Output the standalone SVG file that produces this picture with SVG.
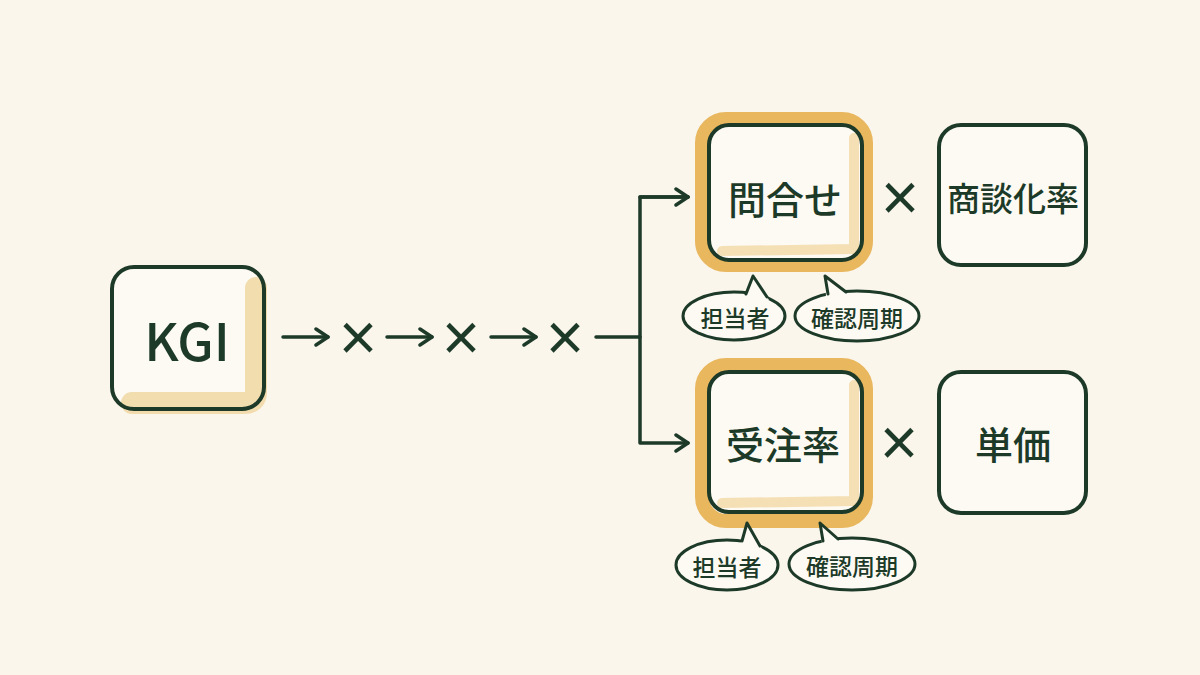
<svg xmlns="http://www.w3.org/2000/svg" width="1200" height="675" viewBox="0 0 1200 675">
<defs>
<style>
.bg{fill:#faf6ec}
.fillbox{fill:#fcfaf3;stroke:none}
.box{fill:none;stroke:#1d3a29;stroke-width:4}
.boxf{fill:#fcfaf3;stroke:#1d3a29;stroke-width:4}
.hl{fill:none;stroke:#e9b75e;stroke-width:14}
.hlin{fill:none;stroke:#f0cd8a;stroke-width:10;opacity:0.6;stroke-linecap:round;stroke-linejoin:round}
.ln{fill:none;stroke:#1d3a29;stroke-width:3.5;stroke-linecap:round;stroke-linejoin:round}
.bub{fill:#fcfaf3;stroke:#1d3a29;stroke-width:3}
.tailfill{fill:#fcfaf3;stroke:none}
.t{fill:#1d3a29;font-family:"Noto Sans CJK JP","Noto Sans",sans-serif;font-weight:500;text-anchor:middle;dominant-baseline:central}
.x{fill:#1d3a29;font-family:"Liberation Sans",sans-serif;font-size:66px;text-anchor:middle;dominant-baseline:central}
</style>
<marker id="ah" viewBox="0 0 20 20" refX="17" refY="10" markerWidth="20" markerHeight="20" markerUnits="userSpaceOnUse" orient="auto">
<path d="M5,2 L17,10 L5,18" fill="none" stroke="#1d3a29" stroke-width="3.5" stroke-linecap="round" stroke-linejoin="round"/>
</marker>
</defs>
<rect class="bg" x="0" y="0" width="1200" height="675"/>

<g id="connectors">
<line class="ln" x1="283" y1="337" x2="328" y2="337" marker-end="url(#ah)"/>
<line class="ln" x1="387" y1="337" x2="432" y2="337" marker-end="url(#ah)"/>
<line class="ln" x1="491" y1="337" x2="536" y2="337" marker-end="url(#ah)"/>
<line class="ln" x1="596" y1="337" x2="640" y2="337"/>
<path class="ln" d="M688,197 L640,197 L640,443 L688,443" marker-end="url(#ah)"/>
<path class="ln" d="M640,197 L688,197" marker-end="url(#ah)"/>
<text class="x" x="358" y="337">×</text>
<text class="x" x="461" y="337">×</text>
<text class="x" x="565" y="337">×</text>
<text class="x" x="900" y="197">×</text>
<text class="x" x="899" y="442">×</text>
</g>

<g id="kgi">
<rect class="fillbox" x="112" y="267" width="152" height="142" rx="22"/>
<path d="M256,288 L256,392 Q256,403 244,403 L132,403" fill="none" stroke="#f0d7a2" stroke-width="22" stroke-linecap="round" stroke-linejoin="round" opacity="0.85"/>
<rect class="box" x="112" y="267" width="152" height="142" rx="22"/>
<text class="t" x="187" y="338" font-size="52">KGI</text>
</g>

<g id="toiawase">
<rect class="hl" x="702" y="119" width="164" height="146" rx="24"/>
<rect class="fillbox" x="709" y="125" width="153" height="135" rx="20"/>
<path class="hlin" d="M854,138 L854,249 L722,251"/>
<rect class="box" x="709" y="125" width="153" height="135" rx="20"/>
<text class="t" x="785" y="197" font-size="38">問合せ</text>
</g>

<g id="shodan">
<rect class="boxf" x="939" y="125" width="147" height="140" rx="22"/>
<text class="t" x="1013" y="197" font-size="33">商談化率</text>
</g>

<g id="juchu">
<rect class="hl" x="702" y="365" width="164" height="156" rx="24"/>
<rect class="fillbox" x="709" y="372" width="153" height="140" rx="20"/>
<path class="hlin" d="M854,385 L854,501 L722,503"/>
<rect class="box" x="709" y="372" width="153" height="140" rx="20"/>
<text class="t" x="783" y="442" font-size="38">受注率</text>
</g>

<g id="tanka">
<rect class="boxf" x="939" y="372" width="147" height="141" rx="22"/>
<text class="t" x="1013" y="442" font-size="38">単価</text>
</g>

<g id="bubble-tanto-1">
<ellipse class="bub" cx="734" cy="316" rx="51" ry="24"/>
<polygon class="tailfill" points="744,299 753,276 769,300"/>
<polyline class="ln" points="746,294 753,276 767,297" style="stroke-width:3"/>
<text class="t" x="735" y="317" font-size="23">担当者</text>
</g>

<g id="bubble-kakunin-1">
<ellipse class="bub" cx="857" cy="316" rx="62" ry="25"/>
<polygon class="tailfill" points="826,297 825,276 848,295"/>
<polyline class="ln" points="828,294 825,276 846,292" style="stroke-width:3"/>
<text class="t" x="857" y="317" font-size="23">確認周期</text>
</g>

<g id="bubble-tanto-2">
<ellipse class="bub" cx="727" cy="565" rx="51" ry="25"/>
<polygon class="tailfill" points="740,545 747,523 762,549"/>
<polyline class="ln" points="742,541 747,523 760,546" style="stroke-width:3"/>
<text class="t" x="727" y="566" font-size="23">担当者</text>
</g>

<g id="bubble-kakunin-2">
<ellipse class="bub" cx="852" cy="564" rx="63" ry="26"/>
<polygon class="tailfill" points="822,545 820,523 840,542"/>
<polyline class="ln" points="823,541 820,523 838,539" style="stroke-width:3"/>
<text class="t" x="852" y="565" font-size="23">確認周期</text>
</g>
</svg>
